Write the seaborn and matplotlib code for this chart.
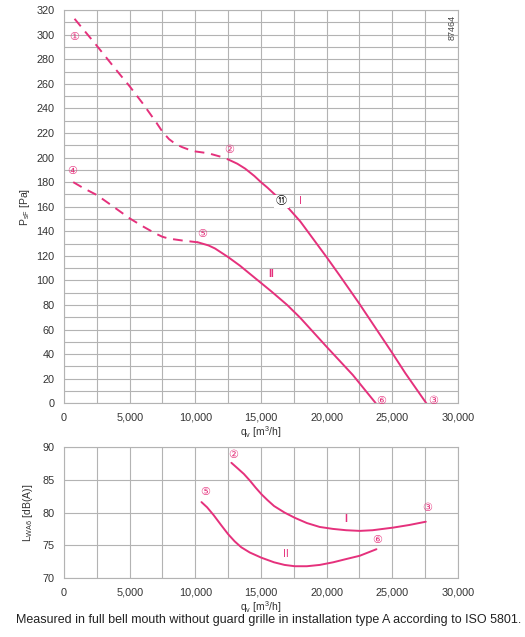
import numpy as np
import pandas as pd
import seaborn as sns
import matplotlib.pyplot as plt
from matplotlib.ticker import FuncFormatter, MultipleLocator

# pressure curves (q_v in m3/h, p_sF in Pa)
I_dash_q = [800, 2500, 4000, 5000, 6000, 7000, 7500, 8000, 8500, 9000, 9500, 10000, 11000, 12000, 12500]
I_dash_p = [313, 291, 271, 258, 244, 229, 221, 215, 211, 208.5, 206.5, 205, 203.5, 200.5, 198.5]
I_q = [12500, 13200, 13800, 14500, 15000, 15500, 16000, 16500, 17000, 18000, 19000, 20000, 21000,
       22500, 24000, 25000, 26000, 27600]
I_p = [198.5, 195, 191, 185, 180, 175.5, 170.5, 165.5, 160, 148, 133.5, 119, 104, 81, 57, 41, 24.5, 0]

II_dash_q = [700, 1500, 2500, 3500, 5000, 6000, 6500, 7000, 7500, 8000, 9000, 10200]
II_dash_p = [180, 175, 169.5, 162, 150.5, 144, 141, 138, 135.5, 134, 132.5, 131]
II_q = [10200, 11000, 11500, 12500, 13400, 14200, 15000, 15800, 17000, 18000, 20000, 22000, 23750]
II_p = [131, 128.5, 126, 119, 112, 105, 98, 91, 80, 69.5, 46, 23, 0]

# sound power curves (dB(A))
I_snd_q = [12750, 13200, 13700, 14150, 14600, 15040, 15500, 16000, 16800, 17580, 18500, 19480,
           20500, 21500, 22530, 23500, 25070, 26300, 27560]
I_snd_L = [87.6, 86.8, 85.9, 84.9, 83.8, 82.8, 81.9, 81.0, 80.0, 79.2, 78.4, 77.8,
           77.5, 77.3, 77.2, 77.3, 77.7, 78.1, 78.6]
II_snd_q = [10470, 10900, 11400, 12000, 12500, 13000, 13500, 14150, 15040, 16000, 16800, 17580,
            18500, 19480, 20500, 21500, 22530, 23800]
II_snd_L = [81.6, 80.8, 79.6, 78.0, 76.7, 75.6, 74.7, 73.9, 73.1, 72.4, 72.0, 71.8,
            71.8, 72.0, 72.4, 72.9, 73.4, 74.4]

pink = '#e5317c'
grid_c = '#b3b3b3'

sns.set_style("white")
plt.rcParams['font.family'] = ['Liberation Sans', 'DejaVu Sans', 'Noto Sans CJK JP']
plt.rcParams['mathtext.fontset'] = 'custom'
plt.rcParams['mathtext.rm'] = 'Liberation Sans'
plt.rcParams['mathtext.it'] = 'Liberation Sans'

fig = plt.figure(figsize=(5.25, 6.37), dpi=100)
ax1 = fig.add_axes([0.122, 0.367, 0.750, 0.617])
ax2 = fig.add_axes([0.122, 0.0926, 0.750, 0.2055])

def line(ax, q, v, ls='-'):
    sns.lineplot(x=q, y=v, ax=ax, color=pink, linewidth=1.4, linestyle=ls, sort=False)

line(ax1, I_dash_q, I_dash_p, (0, (5, 3.5)))
line(ax1, I_q, I_p)
line(ax1, II_dash_q, II_dash_p, (0, (5, 3.5)))
line(ax1, II_q, II_p)
line(ax2, I_snd_q, I_snd_L)
line(ax2, II_snd_q, II_snd_L)

fmt = FuncFormatter(lambda x, p: f"{x:,.0f}")
for ax in (ax1, ax2):
    ax.set_xlim(0, 30000)
    ax.xaxis.set_major_locator(MultipleLocator(5000))
    ax.xaxis.set_minor_locator(MultipleLocator(2500))
    ax.xaxis.set_major_formatter(fmt)
    ax.grid(True, which='both', color=grid_c, linewidth=0.8)
    ax.set_axisbelow(True)
    for s in ax.spines.values():
        s.set_color(grid_c)
        s.set_linewidth(0.8)
    ax.tick_params(which='major', labelsize=7.8, colors='#333333', length=4, width=0.8, color=grid_c, pad=3)
    ax.tick_params(which='minor', length=0)
    ax.set_xlabel('q$_v$ [m$^3$/h]', fontsize=7.5, color='#333333', labelpad=1)

ax1.set_ylim(0, 320)
ax1.yaxis.set_major_locator(MultipleLocator(20))
ax1.yaxis.set_minor_locator(MultipleLocator(10))
ax1.set_ylabel('P$_{sF}$ [Pa]', fontsize=7.5, color='#333333', labelpad=3)

ax2.set_ylim(70, 90)
ax2.yaxis.set_major_locator(MultipleLocator(5))
ax2.set_ylabel('L$_{WA6}$ [dB(A)]', fontsize=7.5, color='#333333', labelpad=5)

# circled point markers
cfont = dict(fontsize=8, color=pink, ha='center', va='center', family=['DejaVu Sans', 'Noto Sans CJK JP'])
ax1.text(800, 298, '①', **cfont)
ax1.text(650, 189, '④', **cfont)
ax1.text(12600, 206, '②', **cfont)
ax1.text(10500, 138, '⑤', **cfont)
ax1.text(24150, 2, '⑥', **cfont)
ax1.text(28100, 2, '③', **cfont)
ax1.text(16560, 164.5, '⑪', fontsize=8, color='black', ha='center', va='center',
         family=['DejaVu Sans', 'Noto Sans CJK JP'],
         bbox=dict(boxstyle='square,pad=0.15', fc='white', ec='none'))
ax1.text(18000, 164.5, 'I', fontsize=7.5, color=pink, ha='center', va='center')
ax1.text(15800, 105, 'II', fontsize=7.5, color=pink, ha='center', va='center', fontweight='bold')
ax1.text(29900, 316, '87464', fontsize=6.5, color='#444444', rotation=90, ha='right', va='top')

ax2.text(12900, 88.8, '②', **cfont)
ax2.text(10750, 83.1, '⑤', **cfont)
ax2.text(27650, 80.7, '③', **cfont)
ax2.text(23850, 75.8, '⑥', **cfont)
ax2.text(21450, 79.0, 'I', fontsize=7.5, color=pink, ha='center', va='center', fontweight='bold')
ax2.text(16900, 73.6, 'II', fontsize=7.5, color=pink, ha='center', va='center')

fig.text(0.512, 0.026, 'Measured in full bell mouth without guard grille in installation type A according to ISO 5801.',
         fontsize=9, color='#222222', ha='center', va='center')

fig.savefig('out.png', dpi=100)
